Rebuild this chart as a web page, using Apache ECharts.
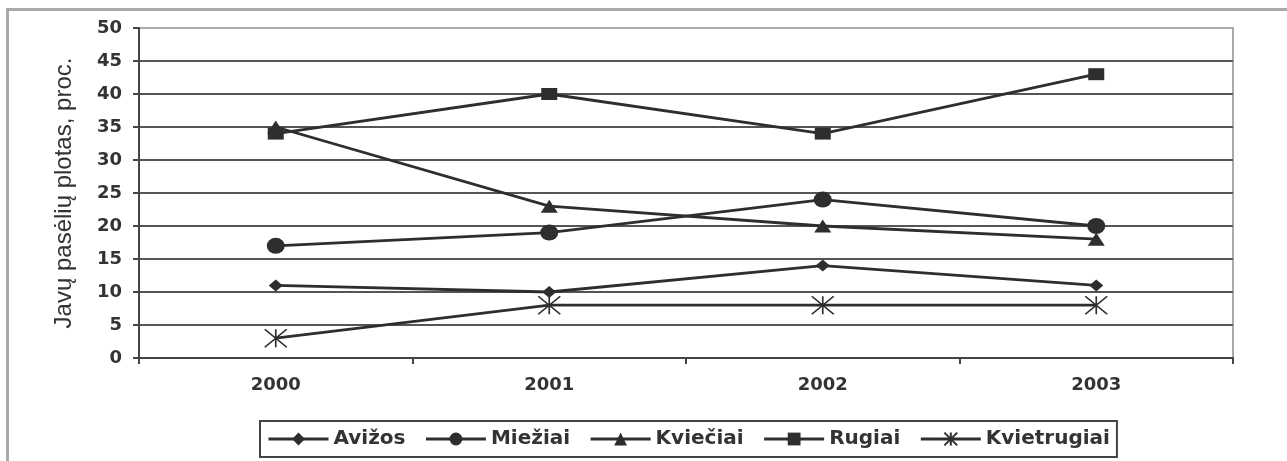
<!DOCTYPE html>
<html><head><meta charset="utf-8">
<script src="https://cdn.jsdelivr.net/npm/echarts@6/dist/echarts.min.js"></script>
<style>html,body{margin:0;padding:0;background:#fff}#c{width:1287px;height:461px}</style>
</head><body><div id="c"></div>
<script>
const years = ['2000', '2001', '2002', '2003'];
const avizos = [11, 10, 14, 11];
const meziai = [17, 19, 24, 20];
const kvieciai = [35, 23, 20, 18];
const rugiai = [34, 40, 34, 43];
const kvietrugiai = [3, 8, 8, 8];
const seriesNames = ['Avižos', 'Miežiai', 'Kviečiai', 'Rugiai', 'Kvietrugiai'];
const yTitle = 'Javų pasėlių plotas, proc.';

const dark = '#2e2e2e';
const boldFont = 'DejaVu Sans, Liberation Sans, sans-serif';
const star = 'path://M0,0L22,18M22,0L0,18M11,0L11,18';
function mk(name, data, symbol, size, extra) {
  return Object.assign({
    name, type: 'line', data, symbol, symbolSize: size,
    lineStyle: { color: dark, width: 2.8 },
    itemStyle: { color: dark },
    animation: false
  }, extra || {});
}
const chart = echarts.init(document.getElementById('c'), null, { renderer: 'canvas' });
const splitColors = ['#555','#555','#555','#555','#555','#555','#555','#555','#555','#555','#aaa'];
chart.setOption({
  animation: false,
  textStyle: { fontFamily: 'Liberation Sans, Arial, sans-serif' },
  graphic: [{
    type: 'rect', shape: { x: 7.5, y: 9.5, width: 1400, height: 600 },
    style: { fill: 'none', stroke: '#aaa', lineWidth: 3 }, silent: true
  }],
  grid: { left: 139, right: 54, top: 28, bottom: 103, show: true, borderColor: '#aaa', borderWidth: 2 },
  xAxis: {
    type: 'category', data: years, boundaryGap: true,
    axisLine: { lineStyle: { color: '#444', width: 2 } },
    axisTick: { show: true, length: 6, lineStyle: { color: '#444', width: 2 } },
    axisLabel: { color: '#333', fontWeight: 'bold', fontSize: 18, fontFamily: boldFont, margin: 18 }
  },
  yAxis: {
    type: 'value', min: 0, max: 50, interval: 5,
    name: yTitle, nameLocation: 'middle', nameGap: 63, nameRotate: 90,
    nameTextStyle: { fontFamily: 'Liberation Sans, Arial, sans-serif', fontSize: 24, color: '#333' },
    axisLine: { show: true, lineStyle: { color: '#444', width: 2 } },
    axisTick: { show: true, length: 6, lineStyle: { color: '#444', width: 2 } },
    axisLabel: { color: '#333', fontWeight: 'bold', fontSize: 18, fontFamily: boldFont, margin: 17 },
    splitLine: { show: true, lineStyle: { color: splitColors, width: 2 } }
  },
  legend: {
    data: seriesNames, bottom: 4, left: 260,
    borderColor: '#444', borderWidth: 2, borderRadius: 0,
    padding: [8, 7], itemGap: 19, itemWidth: 60, itemHeight: 16,
    lineStyle: { width: 3 },
    textStyle: { color: '#333', fontWeight: 'bold', fontSize: 20, fontFamily: boldFont }
  },
  series: [
    mk('Avižos', avizos, 'diamond', [14, 12]),
    mk('Miežiai', meziai, 'circle', [18, 16]),
    mk('Kviečiai', kvieciai, 'triangle', [17, 13]),
    mk('Rugiai', rugiai, 'rect', [16, 12]),
    mk('Kvietrugiai', kvietrugiai, star, [22, 18], { itemStyle: { color: dark, borderColor: dark, borderWidth: 1.5 } })
  ]
});
</script></body></html>
